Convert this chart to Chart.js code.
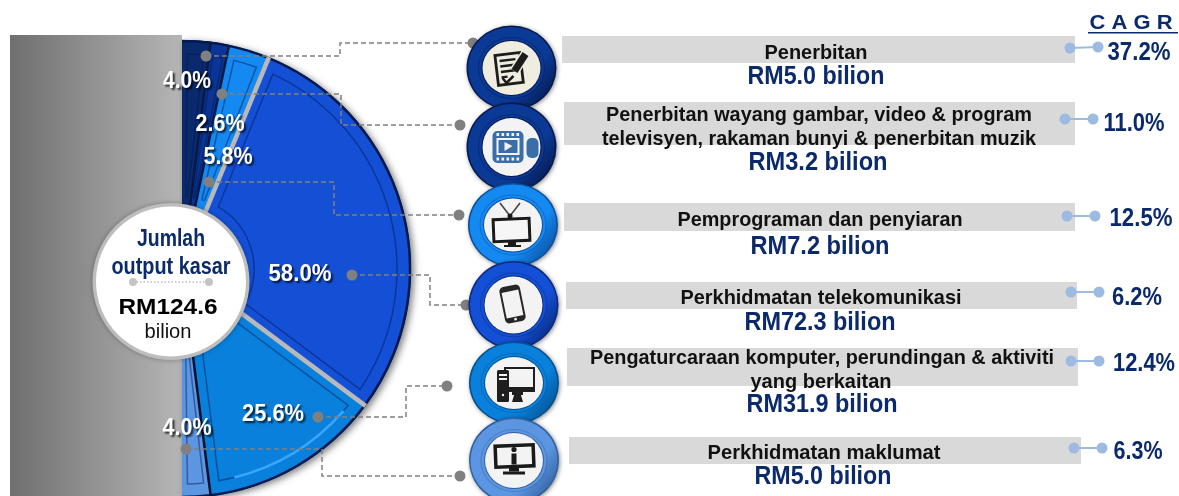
<!DOCTYPE html>
<html>
<head>
<meta charset="utf-8">
<title>Jumlah output kasar</title>
<script src="https://cdn.jsdelivr.net/npm/chart.js@4"></script>
<style>
    html, body { margin: 0; padding: 0; background: #fff; overflow: hidden; width: 1179px; height: 496px; }
    canvas { display: block; }
</style>
</head>
<body>
<canvas id="myChart" width="1179" height="500"></canvas>
<script>
// values, top to bottom
const categories = [
    ['Penerbitan'],
    ['Penerbitan wayang gambar, video & program', 'televisyen, rakaman bunyi & penerbitan muzik'],
    ['Pemprograman dan penyiaran'],
    ['Perkhidmatan telekomunikasi'],
    ['Pengaturcaraan komputer, perundingan & aktiviti', 'yang berkaitan'],
    ['Perkhidmatan maklumat']
];
const shares = [4.0, 2.6, 5.8, 58.0, 25.6, 4.0];
const outputs = [5.0, 3.2, 7.2, 72.3, 31.9, 5.0];
const cagr = [37.2, 11.0, 12.5, 6.2, 12.4, 6.3];
const totalOutput = 124.6;

const sliceColors = ['#0b2a6e', '#0a3596', '#1489f2', '#1450d6', '#0880dc', '#5c96e2'];
const ringMain = ['#0b3a96', '#0b3a96', '#1489f2', '#1450d6', '#0880dc', '#5c96e2'];
const ringDark = ['#06194f', '#06194f', '#0a4f9e', '#0a2a80', '#05508f', '#33609e'];
const navy = '#0b2a6b';
const grey = '#808080';

// layout of the text and decoration around the pie
const rows = [
    { bar: [562, 36, 513, 27], lines: [[816, 51, 103]], rm: [816, 75, 137], val: [1139, 51, 63], tick: [1070, 48, 1098, 47], icon: [511.5, 68, 27] },
    { bar: [564, 102, 511, 43], lines: [[819, 113, 426], [819, 137, 434]], rm: [818, 161, 139], val: [1134, 122, 61], tick: [1065, 119, 1093, 119], icon: [511.5, 147, 29] },
    { bar: [564, 203, 511, 28], lines: [[820, 218, 285]], rm: [820, 245, 139], val: [1141, 217, 63], tick: [1067, 216, 1095, 216], icon: [513, 225, 26.5] },
    { bar: [566, 282, 511, 27], lines: [[821, 296, 281]], rm: [820, 321, 151], val: [1137, 296, 50], tick: [1071, 292, 1099, 292], icon: [513.5, 305, 28.5] },
    { bar: [567, 348, 511, 38], lines: [[822, 356, 464], [821, 380, 141]], rm: [822, 403, 151], val: [1144, 362, 62], tick: [1071, 361, 1099, 361], icon: [514, 383, 26] },
    { bar: [569, 437, 512, 27], lines: [[824, 451, 233]], rm: [823, 475, 137], val: [1138, 450, 49], tick: [1074, 448, 1102, 448], icon: [514, 460.5, 27.5] }
];
const pctLabels = [[187, 80, 48], [220, 123, 49], [228, 156, 49], [300, 273, 63], [273, 413, 62], [187, 427, 49]];
const leaders = [
    [[206, 56], [340, 56], [340, 43], [473, 43]],
    [[222, 94], [341, 94], [341, 125], [460, 125]],
    [[209, 182], [334, 182], [334, 215], [459, 215]],
    [[352, 275], [430, 275], [430, 305], [466, 305]],
    [[318, 417], [406, 417], [406, 386], [447, 386]],
    [[186, 449], [322, 449], [322, 476], [460, 476]]
];

function putText(ctx, text, cx, cy, size, weight, color, width, shadow) {
    ctx.save();
    ctx.font = weight + ' ' + size + 'px "Liberation Sans"';
    ctx.fillStyle = color;
    ctx.textAlign = 'center';
    ctx.textBaseline = 'alphabetic';
    if (shadow) {
        ctx.shadowColor = 'rgba(0,0,0,0.75)';
        ctx.shadowOffsetX = 2;
        ctx.shadowOffsetY = 2;
        ctx.shadowBlur = 2;
    }
    ctx.translate(cx, cy + size * 0.36);
    if (width) ctx.scale(width / ctx.measureText(text).width, 1);
    ctx.fillText(text, 0, 0);
    ctx.restore();
}

function dot(ctx, x, y, r, color) {
    ctx.fillStyle = color;
    ctx.beginPath();
    ctx.arc(x, y, r, 0, Math.PI * 2);
    ctx.fill();
}

function radial(el, a, r) {
    return [el.x + Math.cos(a) * r, el.y + Math.sin(a) * r];
}

function drawInset(ctx, el, color) {
    const rOut = el.outerRadius - 14, rIn = 72;
    const span = el.endAngle - el.startAngle;
    const aOut = Math.min(10, span * rOut * 0.2) / rOut;
    const aIn = Math.min(10, span * rIn * 0.4) / rIn;
    ctx.strokeStyle = color;
    ctx.lineWidth = 1.5;
    ctx.beginPath();
    ctx.arc(el.x, el.y, rOut, el.startAngle + aOut, el.endAngle - aOut);
    ctx.arc(el.x, el.y, rIn, el.endAngle - aIn, el.startAngle + aIn, true);
    ctx.closePath();
    ctx.stroke();
}

function drawEdge(ctx, el, a, color, w) {
    const p = radial(el, a, 40), q = radial(el, a, el.outerRadius);
    ctx.strokeStyle = color;
    ctx.lineWidth = w;
    ctx.beginPath();
    ctx.moveTo(p[0], p[1]);
    ctx.lineTo(q[0], q[1]);
    ctx.stroke();
}

function drawRing(ctx, x, y, ry, i) {
    const ell = (rx, rad, fill) => {
        ctx.fillStyle = fill;
        ctx.beginPath();
        ctx.ellipse(x, y, rx, rad, 0, 0, Math.PI * 2);
        ctx.fill();
    };
    const g = ctx.createLinearGradient(x - 40, y - 30, x + 40, y + 30);
    g.addColorStop(0, ringMain[i]);
    g.addColorStop(0.7, ringMain[i]);
    g.addColorStop(1, ringDark[i]);
    ctx.save();
    ctx.shadowColor = 'rgba(0,0,0,0.45)';
    ctx.shadowBlur = 4;
    ctx.shadowOffsetX = 1;
    ctx.shadowOffsetY = 1;
    ell(45, ry + 15.5, ringDark[i]);
    ctx.restore();
    ell(43.5, ry + 14, g);
    ctx.globalAlpha = 0.45;
    ell(33.5, ry + 4, ringDark[i]);
    ctx.globalAlpha = 1;
    ell(32.5, ry + 3, ringMain[i]);
    ell(30, ry + 1, ringDark[i]);
    ell(29, ry, i === 0 ? '#efece0' : '#f3f3f3');
}

function iconNote(ctx, x, y) {
    ctx.save();
    ctx.translate(x - 3, y);
    ctx.rotate(-0.12);
    ctx.strokeStyle = '#1c1c1c';
    ctx.lineWidth = 2.8;
    ctx.strokeRect(-12, -14, 25, 30);
    ctx.lineWidth = 2.4;
    for (let k = 0; k < 4; k++) {
        ctx.beginPath();
        ctx.moveTo(-8, -8 + k * 5.5);
        ctx.lineTo(k === 3 ? -2 : 8, -8 + k * 5.5);
        ctx.stroke();
    }
    ctx.restore();
    ctx.strokeStyle = '#efece0';
    ctx.lineWidth = 10;
    ctx.beginPath();
    ctx.moveTo(x + 14, y - 14);
    ctx.lineTo(x + 3, y + 3);
    ctx.stroke();
    ctx.strokeStyle = '#1c1c1c';
    ctx.lineWidth = 7;
    ctx.beginPath();
    ctx.moveTo(x + 14, y - 14);
    ctx.lineTo(x + 3, y + 3);
    ctx.stroke();
    ctx.lineWidth = 2.5;
    ctx.beginPath();
    ctx.moveTo(x - 9, y + 10);
    ctx.lineTo(x - 5, y + 15);
    ctx.lineTo(x + 2, y + 8);
    ctx.stroke();
}

function iconFilm(ctx, x, y) {
    const c = '#3a6ea8';
    ctx.fillStyle = c;
    ctx.beginPath();
    ctx.roundRect(x - 19, y - 16, 31, 32, 5);
    ctx.fill();
    ctx.beginPath();
    ctx.roundRect(x + 15, y - 9, 12, 20, 5);
    ctx.fill();
    ctx.fillStyle = '#f3f3f3';
    ctx.fillRect(x - 15, y - 9, 23, 17);
    for (let k = 0; k < 5; k++) {
        ctx.fillRect(x - 15 + k * 5, y - 14, 2.6, 3);
        ctx.fillRect(x - 15 + k * 5, y + 10.5, 2.6, 3);
    }
    ctx.fillStyle = c;
    ctx.fillRect(x - 13, y - 7, 19, 13);
    ctx.fillStyle = '#f3f3f3';
    ctx.beginPath();
    ctx.moveTo(x - 7, y - 5);
    ctx.lineTo(x + 1, y - 1);
    ctx.lineTo(x - 7, y + 4);
    ctx.fill();
}

function iconTv(ctx, x, y) {
    ctx.strokeStyle = '#444';
    ctx.lineWidth = 1.6;
    ctx.beginPath();
    ctx.moveTo(x - 13, y - 22);
    ctx.lineTo(x - 3, y - 9);
    ctx.lineTo(x + 7, y - 22);
    ctx.stroke();
    ctx.save();
    ctx.translate(x - 1.5, y + 5);
    ctx.rotate(-0.04);
    ctx.lineWidth = 3;
    ctx.strokeStyle = '#1a1a1a';
    ctx.fillStyle = '#f6f6f6';
    ctx.fillRect(-18, -11, 36, 22);
    ctx.strokeRect(-18, -11, 36, 22);
    ctx.restore();
    dot(ctx, x - 3, y - 9, 2.5, '#1a1a1a');
    ctx.fillStyle = '#1a1a1a';
    ctx.fillRect(x - 5, y + 16, 8, 4);
    ctx.fillRect(x - 9, y + 20, 17, 2);
}

function iconPhone(ctx, x, y) {
    ctx.save();
    ctx.translate(x - 1, y - 1);
    ctx.rotate(-0.2);
    ctx.fillStyle = '#262626';
    ctx.beginPath();
    ctx.roundRect(-10.5, -18.5, 21, 37, 4.5);
    ctx.fill();
    ctx.fillStyle = '#f3f3f3';
    ctx.fillRect(-8.5, -13, 17, 26);
    dot(ctx, 0, 15.5, 1.4, '#f3f3f3');
    ctx.restore();
}

function iconPc(ctx, x, y) {
    ctx.fillStyle = '#1f1f1f';
    ctx.fillRect(x - 10, y - 16, 31, 25);
    ctx.fillStyle = '#f3f3f3';
    ctx.fillRect(x - 8, y - 14, 27, 18);
    ctx.fillStyle = '#1f1f1f';
    ctx.fillRect(x - 2, y + 9, 11, 3);
    ctx.beginPath();
    ctx.moveTo(x + 1, y + 9);
    ctx.lineTo(x + 6, y + 9);
    ctx.lineTo(x + 9, y + 19);
    ctx.lineTo(x - 2, y + 19);
    ctx.fill();
    ctx.fillStyle = '#f3f3f3';
    ctx.fillRect(x - 6, y - 14, 2, 18);
    ctx.fillStyle = '#1f1f1f';
    ctx.beginPath();
    ctx.roundRect(x - 17, y - 13, 12, 32, 1.5);
    ctx.fill();
    ctx.fillStyle = '#f3f3f3';
    ctx.fillRect(x - 15, y - 9, 8, 2);
    ctx.fillRect(x - 15, y - 5, 8, 2);
    dot(ctx, x - 11, y + 12, 1.2, '#f3f3f3');
}

function iconInfo(ctx, x, y) {
    ctx.save();
    ctx.translate(x + 0.5, y - 5);
    ctx.rotate(-0.04);
    ctx.strokeStyle = '#1a1a1a';
    ctx.lineWidth = 3.5;
    ctx.strokeRect(-19, -10, 38, 21);
    ctx.restore();
    ctx.fillStyle = '#1a1a1a';
    ctx.fillRect(x - 2.5, y - 7, 5, 11);
    dot(ctx, x, y - 11, 2.6, '#1a1a1a');
    ctx.fillRect(x - 5, y + 6, 10, 5);
    ctx.fillRect(x - 11, y + 11, 22, 3);
}

const iconDraw = [iconNote, iconFilm, iconTv, iconPhone, iconPc, iconInfo];

const scenery = {
    id: 'scenery',
    beforeDraw(chart) {
        const ctx = chart.ctx;
        const g = ctx.createLinearGradient(10, 0, 182, 0);
        g.addColorStop(0, '#6f6f6f');
        g.addColorStop(1, '#b6b6b6');
        ctx.fillStyle = g;
        ctx.fillRect(10, 35, 172, 465);
    },
    beforeDatasetsDraw(chart) {
        const ctx = chart.ctx, arcs = chart.getDatasetMeta(0).data;
        const first = arcs[0].getProps(['x', 'y', 'startAngle', 'outerRadius'], true);
        const last = arcs[arcs.length - 1].getProps(['endAngle'], true);
        ctx.save();
        ctx.shadowColor = 'rgba(0,0,0,0.5)';
        ctx.shadowBlur = 7;
        ctx.shadowOffsetX = 3;
        ctx.shadowOffsetY = 2;
        ctx.fillStyle = '#1c3c80';
        ctx.beginPath();
        ctx.moveTo(first.x, first.y);
        ctx.arc(first.x, first.y, first.outerRadius, first.startAngle, last.endAngle);
        ctx.closePath();
        ctx.fill();
        ctx.restore();
    },
    afterDatasetsDraw(chart) {
        const ctx = chart.ctx;
        const arcs = chart.getDatasetMeta(0).data.map(a =>
            a.getProps(['x', 'y', 'startAngle', 'endAngle', 'outerRadius'], true));

        // bevels and rim of the slices
        ctx.save();
        arcs.forEach(el => drawInset(ctx, el, 'rgba(0,22,80,0.45)'));
        ctx.strokeStyle = '#3aa6ff';
        ctx.lineWidth = 2.5;
        ctx.beginPath();
        ctx.arc(arcs[4].x, arcs[4].y, arcs[4].outerRadius - 14, arcs[4].startAngle + 0.08, arcs[4].endAngle - 0.12);
        ctx.stroke();
        arcs.forEach(el => {
            ctx.strokeStyle = '#06194f';
            ctx.lineWidth = 2.5;
            ctx.beginPath();
            ctx.arc(el.x, el.y, el.outerRadius - 1, el.startAngle, el.endAngle);
            ctx.stroke();
        });
        drawEdge(ctx, arcs[0], arcs[0].endAngle, '#071a44', 2.5);
        drawEdge(ctx, arcs[1], arcs[1].endAngle, '#071a44', 2.5);
        drawEdge(ctx, arcs[2], arcs[2].endAngle, '#b9b9b9', 4.5);
        drawEdge(ctx, arcs[3], arcs[3].endAngle, '#b9b9b9', 4.5);
        drawEdge(ctx, arcs[4], arcs[4].endAngle, '#050f2a', 2.5);
        ctx.restore();

        // dashed leaders, drawn before the icons so the rings cover their ends
        ctx.save();
        ctx.strokeStyle = grey;
        ctx.lineWidth = 1.5;
        ctx.setLineDash([5, 3]);
        leaders.forEach(path => {
            ctx.beginPath();
            path.forEach((p, k) => k ? ctx.lineTo(p[0], p[1]) : ctx.moveTo(p[0], p[1]));
            ctx.stroke();
        });
        ctx.setLineDash([]);
        leaders.forEach(path => {
            dot(ctx, path[0][0], path[0][1], 5.5, grey);
            dot(ctx, path[3][0], path[3][1], 5.5, grey);
        });
        ctx.restore();

        // percentage labels
        shares.forEach((s, i) => {
            const p = pctLabels[i];
            putText(ctx, s.toFixed(1) + '%', p[0], p[1], 23, 'bold', '#fff', p[2], true);
        });

        // centre disc
        ctx.save();
        ctx.shadowColor = 'rgba(0,0,0,0.3)';
        ctx.shadowBlur = 5;
        dot(ctx, 171, 281.5, 78.5, '#bdbdbd');
        ctx.restore();
        dot(ctx, 171, 281.5, 75, '#fff');
        putText(ctx, 'Jumlah', 171, 237, 24, 'bold', navy, 68);
        putText(ctx, 'output kasar', 171, 265, 24, 'bold', navy, 119);
        ctx.save();
        ctx.strokeStyle = '#bdbdbd';
        ctx.lineWidth = 1.5;
        ctx.setLineDash([1.5, 2]);
        ctx.beginPath();
        ctx.moveTo(133, 282);
        ctx.lineTo(209, 282);
        ctx.stroke();
        ctx.restore();
        dot(ctx, 133, 282, 4, '#c4c4c4');
        dot(ctx, 209, 282, 4, '#c4c4c4');
        putText(ctx, 'RM' + totalOutput.toFixed(1), 168, 306, 22, 'bold', '#000', 99);
        putText(ctx, 'bilion', 168, 330, 21, 'normal', '#111', 47);

        // icons and the rows on the right
        rows.forEach((row, i) => {
            drawRing(ctx, row.icon[0], row.icon[1], row.icon[2], i);
            iconDraw[i](ctx, row.icon[0], row.icon[1]);
            ctx.fillStyle = '#d9d9d9';
            ctx.fillRect(row.bar[0], row.bar[1], row.bar[2], row.bar[3]);
        });
        rows.forEach((row, i) => {
            categories[i].forEach((line, k) => {
                const l = row.lines[k];
                putText(ctx, line, l[0], l[1], 21, 'bold', '#111', l[2]);
            });
            putText(ctx, 'RM' + outputs[i].toFixed(1) + ' bilion', row.rm[0], row.rm[1], 26, 'bold', navy, row.rm[2]);
            putText(ctx, cagr[i].toFixed(1) + '%', row.val[0], row.val[1], 25, 'bold', navy, row.val[2]);
            const t = row.tick;
            ctx.strokeStyle = '#9dbbe0';
            ctx.lineWidth = 2;
            ctx.beginPath();
            ctx.moveTo(t[0], t[1]);
            ctx.lineTo(t[2], t[3]);
            ctx.stroke();
            dot(ctx, t[0], t[1], 5.5, '#9dbbe0');
            dot(ctx, t[2], t[3], 5.5, '#9dbbe0');
        });

        putText(ctx, 'C A G R', 1131, 22, 20, 'bold', navy, 83);
        ctx.fillStyle = navy;
        ctx.fillRect(1088, 32, 90, 1.5);
    }
};

const ctx = document.getElementById('myChart').getContext('2d');
const myChart = new Chart(ctx, {
    type: 'pie',
    data: {
        labels: categories.map(c => c.join(' ')),
        datasets: [{
            data: shares,
            backgroundColor: sliceColors,
            borderWidth: 0,
            clip: false
        }]
    },
    options: {
        responsive: false,
        animation: false,
        rotation: 0,
        circumference: 180,
        layout: { padding: { left: 182, right: 768, top: 40, bottom: 2 } },
        plugins: { legend: { display: false }, tooltip: { enabled: false } }
    },
    plugins: [scenery]
});
</script>
</body>
</html>
